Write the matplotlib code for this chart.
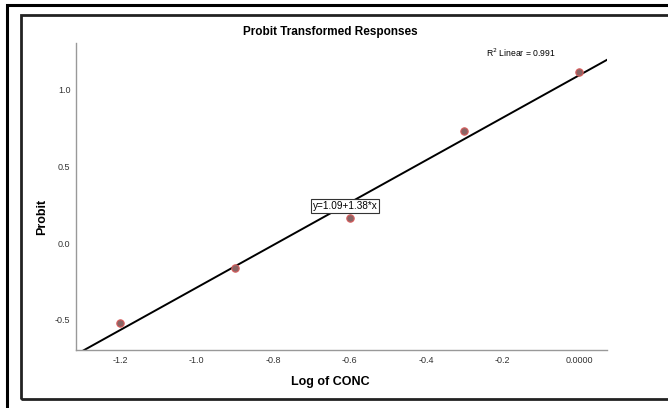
import matplotlib
matplotlib.use('Agg')
import matplotlib.pyplot as plt
from matplotlib.patches import Rectangle
import numpy as np

plt.rcParams['font.family'] = ['Liberation Sans', 'DejaVu Sans']
plt.rcParams['axes.unicode_minus'] = False

log_conc = [-1.2, -0.9, -0.6, -0.3, 0.0]
probit = [-0.52, -0.16, 0.16, 0.73, 1.11]
intercept, slope = 1.09, 1.38
r2 = 0.991
xticks = [-1.2, -1.0, -0.8, -0.6, -0.4, -0.2, 0.0]
xticklabels = ['-1.2', '-1.0', '-0.8', '-0.6', '-0.4', '-0.2', '0.0000']
yticks = [-0.5, 0.0, 0.5, 1.0]

W, H = 668, 408
fig = plt.figure(figsize=(W / 100, H / 100), dpi=100)

# outer and inner frames (px -> figure fraction)
def px(x, y):
    return x / W, 1 - y / H

fig.patches.append(Rectangle(px(6.5, 420), 1.2, (420 - 5.5) / H, transform=fig.transFigure,
                             fill=False, edgecolor='black', linewidth=2.2))
fig.patches.append(Rectangle(px(20.5, 399), 1.2, (399 - 15) / H, transform=fig.transFigure,
                             fill=False, edgecolor='#222222', linewidth=2.0))

ax = fig.add_axes([76 / W, 1 - 350 / H, (607 - 76) / W, (350 - 43) / H])
xmin, xmax = -1.315, 0.073
ymin, ymax = -0.695, 1.30

xx = np.array([xmin, xmax])
ax.plot(xx, intercept + slope * xx, color='black', linewidth=1.4, zorder=2)
ax.scatter(log_conc, probit, s=28, facecolor='#8a6464', edgecolor='#d85c5c',
           linewidth=0.8, zorder=3)

ax.set_xlim(xmin, xmax)
ax.set_ylim(ymin, ymax)
ax.set_xticks(xticks)
ax.set_xticklabels(xticklabels)
ax.set_yticks(yticks)
ax.tick_params(length=0, labelsize=6.5, colors='#333333', pad=4)
for s in ['top', 'right']:
    ax.spines[s].set_visible(False)
for s in ['left', 'bottom']:
    ax.spines[s].set_color('#999999')
    ax.spines[s].set_linewidth(1.0)

fig.text(330 / W, 1 - 32 / H, 'Probit Transformed Responses', ha='center', va='center',
         fontsize=8.5, fontweight='bold')
fig.text(330 / W, 1 - 382 / H, 'Log of CONC', ha='center', va='center',
         fontsize=9, fontweight='bold')
fig.text(42 / W, 1 - 217 / H, 'Probit', ha='center', va='center', rotation=90,
         fontsize=9, fontweight='bold')

ax.annotate('y=%.2f+%.2f*x' % (intercept, slope), xy=(-0.612, 0.24), ha='center', va='center',
            fontsize=7.2, bbox=dict(boxstyle='square,pad=0.2', facecolor='white',
                                    edgecolor='#333333', linewidth=0.8))
ax.text(-0.152, 1.234, 'R$^2$ Linear = %.3f' % r2, ha='center', va='center', fontsize=6.2)

fig.savefig('out.png', dpi=100)
